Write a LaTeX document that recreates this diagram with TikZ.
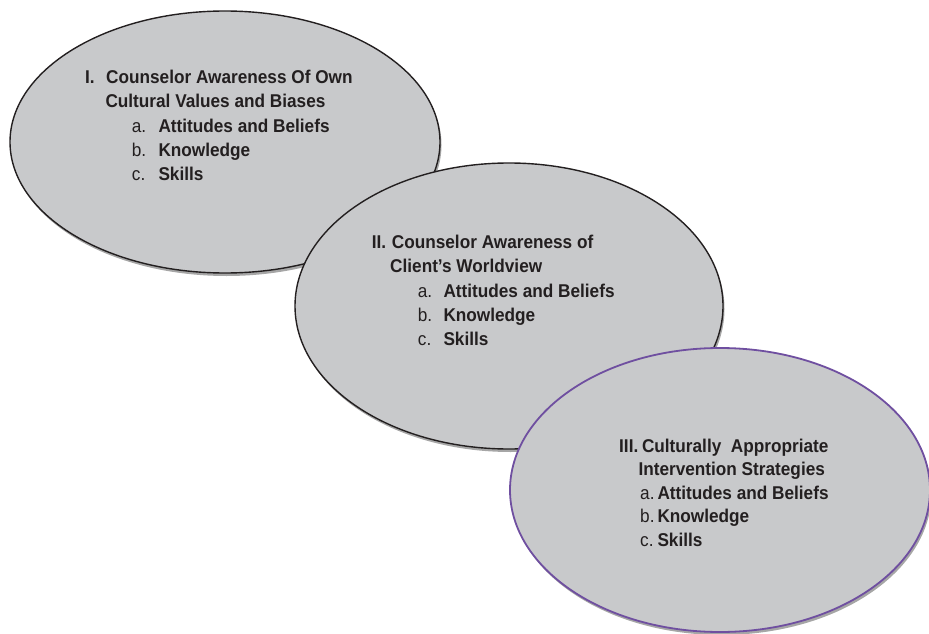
\documentclass[tikz,border=0pt]{standalone}
\usepackage{fontspec}
\setmainfont{Liberation Sans}[FakeStretch=0.93]
\usepackage{tikz}
\usetikzlibrary{shapes,shadows}
\usepackage{xcolor}
\definecolor{ovalgray}{RGB}{200,201,203}
\definecolor{ovalpurple}{RGB}{111,79,160}
\definecolor{inkblack}{RGB}{35,31,32}
\tikzstyle{oval} = [ellipse, fill=ovalgray, draw=inkblack, line width=1.4pt, inner sep=0pt,
  drop shadow={shadow xshift=1.5pt, shadow yshift=-3pt, fill=black!35, opacity=1}]
\tikzstyle{ovaltxt} = [anchor=north west, inner sep=0pt, align=left, text=inkblack,
  font=\fontsize{18.5}{24.3}\selectfont\bfseries]
\newcommand{\lbl}[2]{\makebox[#1][l]{\mdseries #2}}

\begin{document}
\begin{tikzpicture}[x=1pt, y=-1pt]
\useasboundingbox (0,0) rectangle (929,634);

% First oval
\node[oval, minimum width=430pt, minimum height=262pt] (aware) at (225,142) {};
\node[ovaltxt] (awaretxt) at (85,69.8) {%
\makebox[21pt][l]{I.}Counselor Awareness Of Own\\
\hspace*{20.3pt}Cultural Values and Biases\\
\hspace*{46.7pt}\lbl{26.6pt}{a.}Attitudes and Beliefs\\
\hspace*{46.7pt}\lbl{26.6pt}{b.}Knowledge\\
\hspace*{46.7pt}\lbl{26.6pt}{c.}Skills};

% Second oval
\node[oval, minimum width=428pt, minimum height=286pt] (world) at (509,306) {};
\node[ovaltxt] (worldtxt) at (371.7,234.8) {%
\makebox[20pt][l]{II.}Counselor Awareness of\\
\hspace*{18.3pt}Client’s Worldview\\
\hspace*{46pt}\lbl{25.6pt}{a.}Attitudes and Beliefs\\
\hspace*{46pt}\lbl{25.6pt}{b.}Knowledge\\
\hspace*{46pt}\lbl{25.6pt}{c.}Skills};

% Third oval
\node[oval, draw=ovalpurple, line width=1.8pt, minimum width=420pt, minimum height=284pt] (strat) at (720,490) {};
\node[ovaltxt, font=\fontsize{18.5}{23.5}\selectfont\bfseries] (strattxt) at (619,438.5) {%
\makebox[22.8pt][l]{III.}Culturally\ \ Appropriate\\
\hspace*{19.3pt}Intervention Strategies\\
\hspace*{21pt}\lbl{17.3pt}{a.}Attitudes and Beliefs\\
\hspace*{21pt}\lbl{17.3pt}{b.}Knowledge\\
\hspace*{21pt}\lbl{17.3pt}{c.}Skills};
\end{tikzpicture}
\end{document}
